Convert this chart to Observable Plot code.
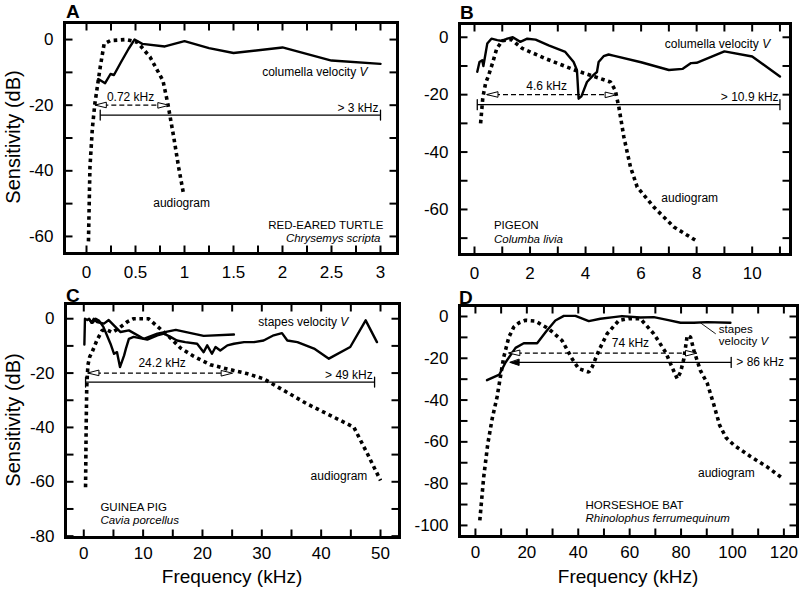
<!DOCTYPE html>
<html><head><meta charset="utf-8">
<script src="https://cdn.jsdelivr.net/npm/d3@7"></script>
<script src="https://cdn.jsdelivr.net/npm/@observablehq/plot@0.6"></script>
<style>
body{margin:0;background:#fff;font-family:"Liberation Sans",Arial,Helvetica,sans-serif;color:#000;}
#root{position:relative;width:800px;height:589px;overflow:hidden;background:#fff;}
.panel{position:absolute;}
.letter{position:absolute;font-weight:bold;font-size:19px;line-height:1;}
.ytitle{position:absolute;font-size:20px;line-height:1;white-space:nowrap;transform:translate(-50%,-50%) rotate(-90deg);}
.xtitle{position:absolute;font-size:19px;line-height:1;white-space:nowrap;transform:translate(-50%,-50%);}
</style></head><body><div id="root"></div>
<script>
// ---------- Panel A: red-eared turtle ----------
const aVelFreq = [0.12, 0.19, 0.245, 0.28, 0.35, 0.43, 0.49, 0.57, 0.8, 1.0, 1.25, 1.5, 2.0, 2.5, 3.0];
const aVelSens = [-12.0, -13.3, -10.5, -10.8, -7.0, -2.8, 0, -1.3, -2.1, -0.5, -2.6, -4.1, -2.4, -6.4, -7.4];
const aAudFreq = [0.02, 0.035, 0.06, 0.085, 0.14, 0.18, 0.245, 0.4, 0.52, 0.65, 0.78, 0.83, 0.89, 0.94, 0.99];
const aAudSens = [-61.5, -39, -27, -19.6, -8.4, -1.3, -0.3, 0, -0.8, -5.4, -12.5, -19.6, -29.7, -38.9, -47];
const aBand = [0.09, 0.84], aBandLevel = -20;
const aRange = [0.14, 3.0], aRangeLevel = -23;
const aXLabels = [0, 0.5, 1, 1.5, 2, 2.5, 3];
const aYLabels = [0, -20, -40, -60];
const aXTicks = [0, 0.25, 0.5, 0.75, 1, 1.25, 1.5, 1.75, 2, 2.25, 2.5, 2.75, 3];
const aYTicks = [0, -10, -20, -30, -40, -50, -60];

// ---------- Panel B: pigeon ----------
const bVelFreq = [0.1, 0.18, 0.28, 0.32, 0.46, 0.61, 0.82, 1.0, 1.18, 1.38, 1.65, 1.9, 2.2, 2.67, 3.27, 3.57, 3.69, 3.75, 3.85, 4.05, 4.28, 4.41, 4.47, 4.65, 4.83, 5.0, 6.0, 7.0, 7.5, 7.8, 8.0, 9.0, 10.0, 11.0];
const bVelSens = [-12, -8.6, -8, -10, -2.2, -0.5, -1, -1.3, -0.5, 0, -1.6, -0.5, -0.8, -2.8, -5.1, -8.6, -11.5, -21.4, -20.6, -15.6, -13.2, -12.1, -8.6, -6.6, -6.0, -6.4, -8.7, -11.4, -11, -9, -8.9, -4.9, -6.7, -13.7];
const bAudFreq = [0.22, 0.3, 0.4, 0.5, 0.65, 0.8, 1.0, 1.33, 1.72, 2.55, 3.63, 4.35, 4.9, 5.07, 5.2, 5.38, 5.62, 5.86, 6.46, 7.18, 8.0];
const bAudSens = [-30, -21, -16, -13.5, -9, -4, -1.2, -0.8, -3.9, -7.4, -11.5, -13.8, -15.6, -18.5, -24.4, -34.8, -45.3, -52.2, -59.2, -66.1, -71];
const bBand = [0.45, 5.1], bBandLevel = -20;
const bRange = [0.1, 11.0], bRangeLevel = -23.5;
const bXLabels = [0, 2, 4, 6, 8, 10];
const bYLabels = [0, -20, -40, -60];
const bXTicks = [0, 1, 2, 3, 4, 5, 6, 7, 8, 9, 10, 11];
const bYTicks = [0, -10, -20, -30, -40, -50, -60, -70];

// ---------- Panel C: guinea pig ----------
const cVel1Freq = [0.1, 0.2, 0.6, 0.9, 1.3, 1.7, 2.2, 3.4, 4.2, 6.2, 7.6, 10.1, 12.4, 15.5, 20.2, 25.3];
const cVel1Sens = [-9.5, 0, -0.5, 0, -1.5, 0, -1.2, -1.8, -0.5, -4.9, -4.3, -7.4, -5.5, -4.1, -6.3, -5.8];
const cVel2Freq = [1.0, 1.5, 2.0, 2.6, 3.3, 3.9, 4.5, 5.1, 5.6, 6.1, 6.8, 7.1, 7.6, 8.4, 10.7, 12.4, 13.5, 14.6, 15.7, 17.1, 19.1, 20.2, 20.8, 21.6, 22.2, 23.0, 24.2, 25.3, 27, 28.7, 30.3, 32, 33.4, 34.3, 36, 38.8, 41.3, 44.9, 47.5, 49.4];
const cVel2Sens = [-0.5, -1.5, 0, -0.8, -3, -6.1, -9.2, -12.9, -12.3, -17.8, -13.5, -11, -7.4, -6.7, -7.7, -6.1, -5.5, -6.7, -8, -8.6, -9.2, -12.3, -9.8, -12.9, -10.4, -11.7, -9.8, -9.2, -8.6, -8.6, -8, -6.1, -5.3, -8, -8.6, -11, -14.7, -10.4, -0.6, -8.6];
const cAudFreq = [0.3, 0.4, 0.5, 0.7, 1.0, 1.4, 2.2, 3.1, 4.0, 4.8, 5.8, 7.3, 8.4, 10.9, 12.4, 14.6, 16.3, 18.5, 21.3, 24.2, 27.5, 30.3, 33.7, 37.6, 42.1, 45.5, 47.8, 50];
const cAudSens = [-62, -40, -25, -17, -14, -12.3, -8, -4.3, -4.2, -5, -3.7, -1.2, 0, 0, -2.8, -7.1, -10.8, -13.8, -16.9, -18.5, -20.2, -22.1, -26.4, -31.3, -36.2, -39.9, -49.7, -59.5];
const cBand = [0.7, 25.0], cBandLevel = -20;
const cRange = [0.3, 49.0], cRangeLevel = -23.3;
const cXLabels = [0, 10, 20, 30, 40, 50];
const cYLabels = [0, -20, -40, -60, -80];
const cXTicks = [0, 5, 10, 15, 20, 25, 30, 35, 40, 45, 50];
const cYTicks = [0, -10, -20, -30, -40, -50, -60, -70, -80];

// ---------- Panel D: horseshoe bat ----------
const dVelFreq = [4.5, 9.3, 11.7, 15.6, 18.8, 24, 27.5, 31.1, 34.4, 38.9, 44.1, 48.6, 53.8, 57, 64.2, 69.4, 74.6, 79.8, 85, 90.1, 99.2];
const dVelSens = [-30.5, -27.8, -22, -15, -12.8, -12.8, -7.2, -1.9, 0.3, 0.3, -2.2, -1.1, -0.3, 0.2, -0.5, -0.3, -1.6, -3, -3, -2.7, -3];
const dAudFreq = [1.7, 3.2, 4.8, 6.5, 8.4, 9.7, 11, 13, 14.9, 17, 19.5, 23.3, 28.5, 33.7, 37.6, 40.2, 44.1, 45.4, 48, 51.2, 55.8, 59.7, 64.2, 69.4, 74, 76.5, 78.5, 79.8, 81.1, 82.4, 83.7, 85, 87.5, 90.2, 92.7, 95, 97.5, 100.5, 107, 113.5, 119];
const dAudSens = [-97.6, -77, -61, -49, -38.6, -29, -19.5, -9.9, -5.1, -3, -1.8, -2.2, -5.9, -11.5, -20.2, -25, -26.6, -24.2, -16.3, -8.3, -1.9, -1, -1.1, -8.3, -17.1, -24.3, -29.8, -26.6, -20.2, -9.1, -9.9, -16.3, -25.8, -32, -42, -52, -58, -61.5, -67, -72, -77];
const dBand = [13, 86], dBandLevel = -17.5;
const dRange = [13.5, 99.5], dRangeLevel = -22;
const dXLabels = [0, 20, 40, 60, 80, 100, 120];
const dYLabels = [0, -20, -40, -60, -80, -100];
const dXTicks = [0, 10, 20, 30, 40, 50, 60, 70, 80, 90, 100, 110, 120];
const dYTicks = [0, -10, -20, -30, -40, -50, -60, -70, -80, -90, -100];

// ---------- helpers ----------
const FONT = '"Liberation Sans", Arial, Helvetica, sans-serif';
const TICK = 8;
const pts = (fs, ss) => fs.map((f, i) => ({f, s: ss[i]}));
const hollowHead = {draw(ctx, l) { ctx.moveTo(0, -l); ctx.lineTo(-2.6, 0); ctx.lineTo(2.6, 0); ctx.closePath(); }};
const solidHead = {draw(ctx, l) { ctx.moveTo(0, -l); ctx.lineTo(-3, 0); ctx.lineTo(3, 0); ctx.closePath(); }};
const capShape = {draw(ctx, l) { ctx.moveTo(0, 0); ctx.lineTo(0, -l); }};

function velLine(fs, ss) {
  return Plot.line(pts(fs, ss), {x: "f", y: "s", stroke: "black", strokeWidth: 2.4, strokeLinejoin: "round"});
}
function audLine(fs, ss) {
  return Plot.line(pts(fs, ss), {x: "f", y: "s", stroke: "black", strokeWidth: 3.6, strokeDasharray: "3.6,3.6", strokeLinecap: "butt", strokeLinejoin: "miter"});
}
function bandMarks(band, level) {
  return [
    Plot.link([0], {x1: () => band[0], x2: () => band[1], y1: () => level, y2: () => level, stroke: "black", strokeWidth: 1.2, strokeDasharray: "5,3", strokeLinecap: "butt"}),
    Plot.vector([0], {x: () => band[0], y: () => level, rotate: -90, length: 11, anchor: "end", shape: hollowHead, fill: "white", stroke: "black", strokeWidth: 1}),
    Plot.vector([0], {x: () => band[1], y: () => level, rotate: 90, length: 11, anchor: "end", shape: hollowHead, fill: "white", stroke: "black", strokeWidth: 1})
  ];
}
function rangeMarks(range, level, leftArrow) {
  const m = [
    Plot.link([0], {x1: () => range[0], x2: () => range[1], y1: () => level, y2: () => level, stroke: "black", strokeWidth: 1.2}),
    Plot.vector([0], {x: () => range[1], y: () => level, length: 10, anchor: "middle", shape: capShape, stroke: "black", strokeWidth: 1.3})
  ];
  if (leftArrow) m.push(Plot.vector([0], {x: () => range[0], y: () => level, rotate: -90, length: 9, anchor: "end", shape: solidHead, fill: "black", stroke: "black", strokeWidth: 1}));
  else m.push(Plot.vector([0], {x: () => range[0], y: () => level, length: 10, anchor: "middle", shape: capShape, stroke: "black", strokeWidth: 1.3}));
  return m;
}
function label(text, x, y, anchor, italic, size) {
  return Plot.text([0], {x: () => x, y: () => y, text: () => text, textAnchor: anchor, fontSize: size || 12, fontStyle: italic ? "italic" : "normal", fill: "black"});
}
// inward ticks on all four sides, as short links whose length (TICK px) is turned into data units
function axes(xTicks, xMajor, yTicks, yMajor, pad, xd, yd, iw, ih) {
  const ux = TICK * (xd[1] - xd[0]) / iw, uy = TICK * (yd[1] - yd[0]) / ih;
  const segs = [
    ...xTicks.map(t => ({x1: t, x2: t, y1: yd[0], y2: yd[0] + uy})),
    ...xTicks.map(t => ({x1: t, x2: t, y1: yd[1], y2: yd[1] - uy})),
    ...yTicks.map(t => ({x1: xd[0], x2: xd[0] + ux, y1: t, y2: t})),
    ...yTicks.map(t => ({x1: xd[1], x2: xd[1] - ux, y1: t, y2: t}))
  ];
  return [
    Plot.frame({stroke: "black", fill: "none", strokeWidth: 3}),
    Plot.link(segs, {x1: "x1", x2: "x2", y1: "y1", y2: "y2", stroke: "black", strokeWidth: 2, strokeLinecap: "butt"}),
    Plot.axisX(xMajor, {anchor: "bottom", tickSize: 0, tickPadding: pad, label: null, fontSize: 17, tickFormat: d => String(d)}),
    Plot.axisY(yMajor, {anchor: "left", tickSize: 0, tickPadding: 11, label: null, fontSize: 17, tickFormat: d => String(d)})
  ];
}
function italicV(svg) {
  svg.querySelectorAll("text, tspan").forEach(el => {
    if (el.children.length === 0 && /velocity V$/.test(el.textContent)) {
      el.textContent = el.textContent.slice(0, -1);
      const ts = document.createElementNS("http://www.w3.org/2000/svg", "tspan");
      ts.setAttribute("font-style", "italic");
      ts.textContent = "V";
      el.appendChild(ts);
    }
  });
}
const root = document.getElementById("root");
function place(plot, left, top) {
  italicV(plot);
  const div = document.createElement("div");
  div.className = "panel";
  div.style.left = left + "px";
  div.style.top = top + "px";
  div.appendChild(plot);
  root.appendChild(div);
}
function html(cls, text, left, top) {
  const d = document.createElement("div");
  d.className = cls; d.textContent = text;
  d.style.left = left + "px"; d.style.top = top + "px";
  root.appendChild(d);
}
const common = {style: {fontFamily: FONT, fontSize: "17px", background: "transparent", color: "black", overflow: "visible"}};

// ---------- Panel A ----------
const aXD = [-0.2245, 3.1735], aYD = [-65.2, 5.2];
place(Plot.plot({
  ...common, width: 400, height: 290, marginLeft: 64, marginRight: 3, marginTop: 22, marginBottom: 37,
  x: {domain: aXD}, y: {domain: aYD},
  marks: [
    ...axes(aXTicks, aXLabels, aYTicks, aYLabels, 12, aXD, aYD, 333, 231),
    audLine(aAudFreq, aAudSens),
    velLine(aVelFreq, aVelSens),
    ...bandMarks(aBand, aBandLevel),
    ...rangeMarks(aRange, aRangeLevel, false),
    label("0.72 kHz", 0.45, -17.6, "middle"),
    label("> 3 kHz", 2.98, -20.9, "end"),
    label("columella velocity V", 2.33, -10, "middle"),
    label("audiogram", 0.97, -50, "middle"),
    label("RED-EARED TURTLE", 3.03, -56.6, "end", false, 11.5),
    label("Chrysemys scripta", 3.0, -60.5, "end", true, 11.5)
  ]
}), 0, 0);

// ---------- Panel B ----------
const bXD = [-0.54, 11.38], bYD = [-75.7, 4.8];
place(Plot.plot({
  ...common, width: 400, height: 290, marginLeft: 59, marginRight: 10, marginTop: 23, marginBottom: 36,
  x: {domain: bXD}, y: {domain: bYD},
  marks: [
    ...axes(bXTicks, bXLabels, bYTicks, bYLabels, 12, bXD, bYD, 331, 231),
    audLine(bAudFreq, bAudSens),
    velLine(bVelFreq, bVelSens),
    ...bandMarks(bBand, bBandLevel),
    ...rangeMarks(bRange, bRangeLevel, false),
    label("4.6 kHz", 2.6, -17, "middle"),
    label("> 10.9 kHz", 10.95, -21, "end"),
    label("columella velocity V", 8.75, -2.3, "middle"),
    label("audiogram", 7.75, -56, "middle"),
    label("PIGEON", 0.7, -65.6, "start", false, 11.5),
    label("Columba livia", 0.7, -70.3, "start", true, 11.5)
  ]
}), 400, 0);

// ---------- Panel C ----------
const cXD = [-3.08, 53.2], cYD = [-80.5, 5.6];
place(Plot.plot({
  ...common, width: 400, height: 309, marginLeft: 65, marginRight: 1, marginTop: 23, marginBottom: 52,
  x: {domain: cXD}, y: {domain: cYD},
  marks: [
    ...axes(cXTicks, cXLabels, cYTicks, cYLabels, 9, cXD, cYD, 334, 234),
    audLine(cAudFreq, cAudSens),
    velLine(cVel1Freq, cVel1Sens),
    velLine(cVel2Freq, cVel2Sens),
    ...bandMarks(cBand, cBandLevel),
    ...rangeMarks(cRange, cRangeLevel, false),
    label("24.2 kHz", 13.2, -16.3, "middle"),
    label("> 49 kHz", 48.7, -20.8, "end"),
    label("stapes velocity V", 37, -1.2, "middle"),
    label("audiogram", 43, -58, "middle"),
    label("GUINEA PIG", 2.8, -69.3, "start", false, 11.5),
    label("Cavia porcellus", 2.8, -74.2, "start", true, 11.5)
  ]
}), 0, 280);

// ---------- Panel D ----------
const dXD = [-6.2, 125.3], dYD = [-105.3, 5.26];
place(Plot.plot({
  ...common, width: 400, height: 309, marginLeft: 59, marginRight: 3, marginTop: 25, marginBottom: 53,
  x: {domain: dXD}, y: {domain: dYD},
  marks: [
    ...axes(dXTicks, dXLabels, dYTicks, dYLabels, 9, dXD, dYD, 338, 231),
    audLine(dAudFreq, dAudSens),
    velLine(dVelFreq, dVelSens),
    ...bandMarks(dBand, dBandLevel),
    ...rangeMarks(dRange, dRangeLevel, true),
    Plot.link([0], {x1: () => 87.5, y1: () => -3, x2: () => 93.5, y2: () => -8.3, stroke: "black", strokeWidth: 0.9}),
    label("74 kHz", 60.3, -13, "middle"),
    label("> 86 kHz", 101.5, -22, "start"),
    label("stapes", 94.7, -6.3, "start", false, 11.5),
    label("velocity V", 94.7, -11.8, "start", false, 11.5),
    label("audiogram", 97.6, -75, "middle"),
    label("HORSESHOE BAT", 42.8, -90.6, "start", false, 11.5),
    label("Rhinolophus ferrumequinum", 42.8, -96.8, "start", true, 11.5)
  ]
}), 400, 280);

// ---------- titles and letters ----------
html("letter", "A", 66, 2);
html("letter", "B", 460, 3);
html("letter", "C", 66, 286);
html("letter", "D", 459, 288);
html("ytitle", "Sensitivity (dB)", 13, 137);
html("ytitle", "Sensitivity (dB)", 13, 420);
html("xtitle", "Frequency (kHz)", 232, 576);
html("xtitle", "Frequency (kHz)", 628, 576);
</script></body></html>
